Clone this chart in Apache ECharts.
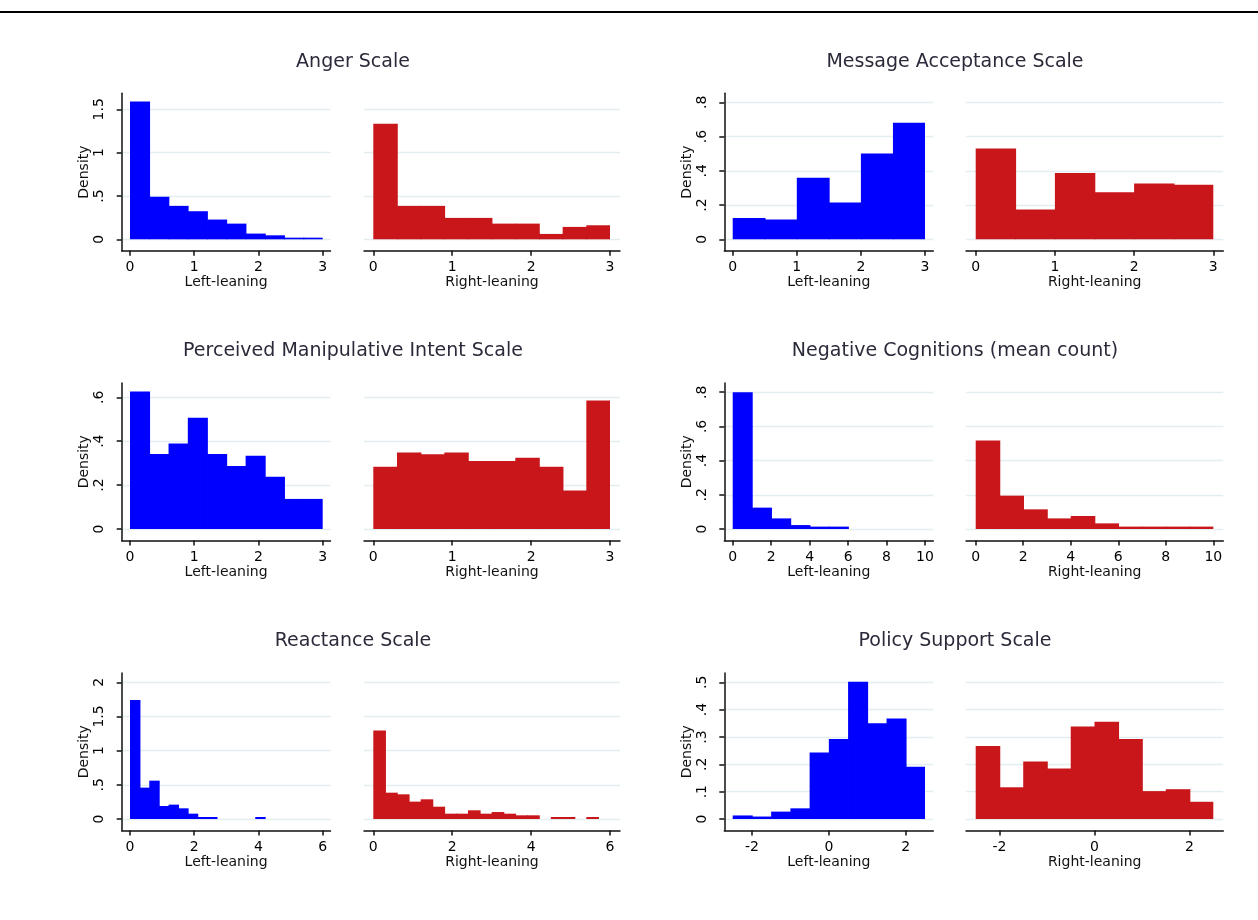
<!DOCTYPE html>
<html>
<head>
<meta charset="utf-8">
<script src="https://cdn.jsdelivr.net/npm/echarts@6/dist/echarts.min.js"></script>
<style>
  html, body { margin: 0; padding: 0; background: #ffffff; }
  #chart { width: 1258px; height: 920px; }
</style>
</head>
<body>
<div id="chart"></div>
<script>
// ---- Histogram densities (equal-width bins, left-leaning vs right-leaning) ----
const angerBins = { start: 0, width: 0.3 };
const angerLeft  = [1.59, 0.49, 0.386, 0.324, 0.228, 0.181, 0.066, 0.046, 0.019, 0.019];
const angerRight = [1.334, 0.386, 0.386, 0.247, 0.247, 0.181, 0.181, 0.062, 0.143, 0.162];

const messageBins = { start: 0, width: 0.5 };
const messageLeft  = [0.125, 0.115, 0.359, 0.215, 0.501, 0.681];
const messageRight = [0.531, 0.174, 0.388, 0.275, 0.326, 0.318];

const manipBins = { start: 0, width: 0.3 };
const manipLeft  = [0.626, 0.342, 0.390, 0.507, 0.342, 0.287, 0.334, 0.238, 0.137, 0.137];
const manipRight = [0.284, 0.349, 0.340, 0.349, 0.310, 0.310, 0.325, 0.284, 0.175, 0.585];

const negBins = { start: 0, width: 1 };
const negLeft  = [0.80, 0.125, 0.062, 0.023, 0.014, 0.014, 0, 0, 0, 0];
const negRight = [0.517, 0.195, 0.115, 0.062, 0.076, 0.033, 0.014, 0.014, 0.014, 0.014];

const reactBins = { start: 0, width: 0.3 };
const reactLeft  = [1.74, 0.459, 0.561, 0.190, 0.210, 0.156, 0.078, 0.029, 0.029, 0,
                    0, 0, 0, 0.029, 0, 0, 0, 0, 0, 0];
const reactRight = [1.293, 0.385, 0.361, 0.254, 0.288, 0.180, 0.078, 0.078, 0.127, 0.078,
                    0.102, 0.078, 0.054, 0.054, 0, 0.029, 0.029, 0, 0.029, 0];

const policyBins = { start: -2.5, width: 0.5 };
const policyLeft  = [0.013, 0.009, 0.027, 0.039, 0.243, 0.293, 0.502, 0.350, 0.368, 0.191];
const policyRight = [0.267, 0.116, 0.210, 0.185, 0.338, 0.356, 0.293, 0.102, 0.109, 0.063];

// ---- Titles and tick labels ----
const panelTitles = ['Anger Scale', 'Message Acceptance Scale',
  'Perceived Manipulative Intent Scale', 'Negative Cognitions (mean count)',
  'Reactance Scale', 'Policy Support Scale'];
const groupLabels = ['Left-leaning', 'Right-leaning'];
const yAxisTitle = 'Density';

const angerXTicks = [0, 1, 2, 3],   angerYTicks = [0, 0.5, 1, 1.5];
const messageXTicks = [0, 1, 2, 3], messageYTicks = [0, 0.2, 0.4, 0.6, 0.8];
const manipXTicks = [0, 1, 2, 3],   manipYTicks = [0, 0.2, 0.4, 0.6];
const negXTicks = [0, 2, 4, 6, 8, 10], negYTicks = [0, 0.2, 0.4, 0.6, 0.8];
const reactXTicks = [0, 2, 4, 6],   reactYTicks = [0, 0.5, 1, 1.5, 2];
const policyXTicks = [-2, 0, 2],    policyYTicks = [0, 0.1, 0.2, 0.3, 0.4, 0.5];

const variables = [
  { bins: angerBins,   left: angerLeft,   right: angerRight,   xTicks: angerXTicks,   yTicks: angerYTicks },
  { bins: messageBins, left: messageLeft, right: messageRight, xTicks: messageXTicks, yTicks: messageYTicks },
  { bins: manipBins,   left: manipLeft,   right: manipRight,   xTicks: manipXTicks,   yTicks: manipYTicks },
  { bins: negBins,     left: negLeft,     right: negRight,     xTicks: negXTicks,     yTicks: negYTicks },
  { bins: reactBins,   left: reactLeft,   right: reactRight,   xTicks: reactXTicks,   yTicks: reactYTicks },
  { bins: policyBins,  left: policyLeft,  right: policyRight,  xTicks: policyXTicks,  yTicks: policyYTicks }
];

// ---- Layout (pixels) ----
const FONT = 'DejaVu Sans';
const rowZero = [239.3, 529, 819];           // y pixel of density 0 in each row
const plotAbove = 146;                        // plot region above the zero line
const plotBelow = 11.5;                       // axis line below the zero line
const yTopValue = [1.685, 0.853, 0.665, 0.854, 2.136, 0.534]; // top of each plot region
// per column: grid edges and pixel span of the data range
const cols = [
  { l: 121.7, r: 330.5, p0: 130,   p1: 322.7 },
  { l: 364,   r: 620,   p0: 373.3, p1: 610 },
  { l: 724.3, r: 933.3, p0: 732.7, p1: 925 },
  { l: 966,   r: 1223.3, p0: 975.7, p1: 1213.3 }
];
const titleCenters = [348, 950];
const barColors = ['#0000ff', '#c8161a'];

function fmtTick(v) {
  if (v === 0) return '0';
  return String(v).replace(/^0\./, '.').replace(/^-0\./, '-.');
}

const grids = [], xAxes = [], yAxes = [], series = [], titles = [];

variables.forEach((vr, vi) => {
  const row = Math.floor(vi / 2);
  const pair = vi % 2;
  const y0 = rowZero[row];
  const lo = vr.bins.start;
  const nBins = vr.left.length;
  const hi = vr.bins.start + vr.bins.width * nBins;
  const ky = plotAbove / yTopValue[vi];

  titles.push({
    text: panelTitles[vi],
    left: titleCenters[pair], top: y0 - 192,
    textAlign: 'center',
    textStyle: { fontFamily: FONT, fontSize: 19, fontWeight: 'normal', color: '#2a2a3a' }
  });

  [vr.left, vr.right].forEach((dens, side) => {
    const c = cols[pair * 2 + side];
    const kx = (c.p1 - c.p0) / (hi - lo);
    const g = grids.length;
    grids.push({ left: c.l, top: y0 - plotAbove, width: c.r - c.l, height: plotAbove + plotBelow });

    xAxes.push({
      gridIndex: g, type: 'value',
      min: lo - (c.p0 - c.l) / kx, max: hi + (c.r - c.p1) / kx,
      axisLine: { show: true, onZero: false, lineStyle: { color: '#111', width: 1.5 } },
      axisTick: { show: true, length: 5, customValues: vr.xTicks, lineStyle: { color: '#111', width: 1.5 } },
      axisLabel: { customValues: vr.xTicks, formatter: fmtTick, margin: 10,
        fontFamily: FONT, fontSize: 14, color: '#000' },
      splitLine: { show: false },
      name: groupLabels[side], nameLocation: 'middle', nameGap: 24,
      nameTextStyle: { fontFamily: FONT, fontSize: 14, color: '#111' }
    });

    const isLeft = side === 0;
    yAxes.push({
      gridIndex: g, type: 'value',
      min: -plotBelow / ky, max: yTopValue[vi],
      axisLine: { show: isLeft, onZero: false, lineStyle: { color: '#111', width: 1.5 } },
      axisTick: { show: isLeft, length: 5, customValues: vr.yTicks, lineStyle: { color: '#111', width: 1.5 } },
      axisLabel: { show: isLeft, customValues: vr.yTicks, formatter: fmtTick, rotate: 90, margin: 15,
        fontFamily: FONT, fontSize: 14, color: '#000' },
      splitLine: { show: true, lineStyle: { color: '#e4edf0', width: 1.3 } },
      name: isLeft ? yAxisTitle : '', nameLocation: 'middle', nameGap: 30, nameRotate: 90,
      nameTextStyle: { fontFamily: FONT, fontSize: 14, color: '#111' }
    });

    const binData = dens.map((d, i) => [lo + i * vr.bins.width, lo + (i + 1) * vr.bins.width, d, i]);
    const fill = barColors[side];
    series.push({
      type: 'custom', xAxisIndex: g, yAxisIndex: g,
      data: binData,
      renderItem: (params, api) => {
        const h = api.value(2);
        if (!(h > 0)) return null;
        const a = api.coord([api.value(0), h]);
        const b = api.coord([api.value(1), 0]);
        // overlap the next bin slightly so neighbouring bins join without a seam
        const next = api.value(3) < nBins - 1 ? 0.8 : 0;
        return {
          type: 'rect',
          shape: { x: a[0], y: a[1], width: b[0] - a[0] + next, height: b[1] - a[1] },
          style: { fill: fill }
        };
      },
      silent: true, animation: false
    });
  });
});

const chart = echarts.init(document.getElementById('chart'), null, { renderer: 'canvas' });
chart.setOption({
  backgroundColor: '#ffffff',
  animation: false,
  title: titles,
  grid: grids,
  xAxis: xAxes,
  yAxis: yAxes,
  series: series,
  graphic: [{ type: 'rect', shape: { x: 0, y: 11, width: 1258, height: 2 }, style: { fill: '#000' } }]
});
</script>
</body>
</html>
